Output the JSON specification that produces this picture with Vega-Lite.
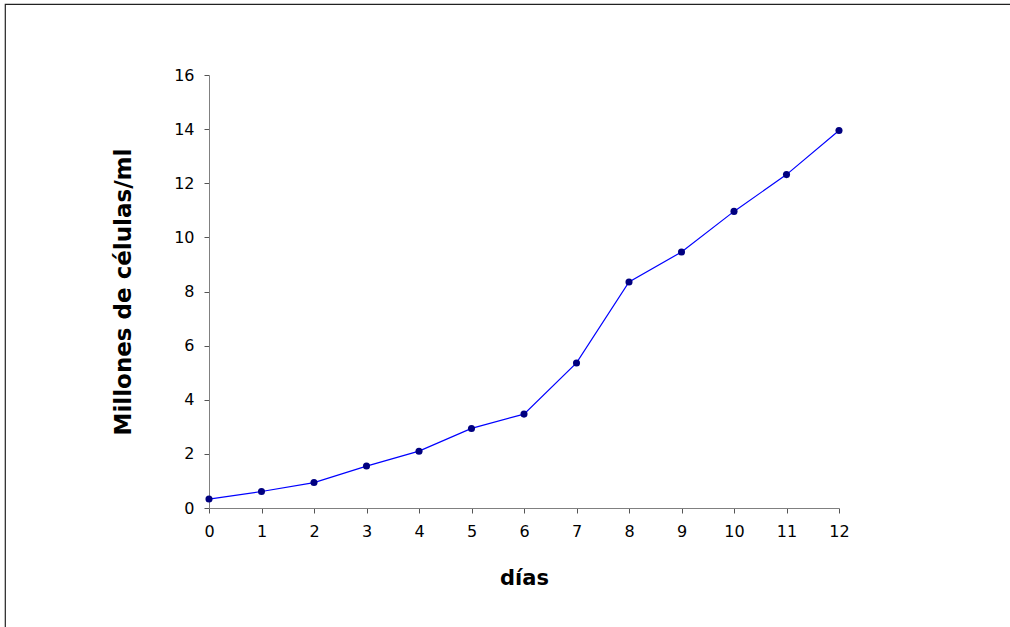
{
  "$schema": "https://vega.github.io/schema/vega-lite/v6.json",
  "width": 1006,
  "height": 624,
  "padding": {"left": 5, "top": 4, "right": 0, "bottom": 0},
  "background": "white",
  "config": {
    "view": {"stroke": "#222222", "strokeWidth": 1.2},
    "font": "DejaVu Sans"
  },
  "data": {
    "values": [
      {"dia": 0, "celulas": 0.33},
      {"dia": 1, "celulas": 0.61},
      {"dia": 2, "celulas": 0.94},
      {"dia": 3, "celulas": 1.55},
      {"dia": 4, "celulas": 2.1},
      {"dia": 5, "celulas": 2.94},
      {"dia": 6, "celulas": 3.47},
      {"dia": 7, "celulas": 5.36},
      {"dia": 8, "celulas": 8.35},
      {"dia": 9, "celulas": 9.46},
      {"dia": 10, "celulas": 10.96},
      {"dia": 11, "celulas": 12.32},
      {"dia": 12, "celulas": 13.95}
    ]
  },
  "encoding": {
    "x": {
      "field": "dia",
      "type": "quantitative",
      "scale": {"domain": [0, 12], "range": [204, 834], "nice": false, "zero": false},
      "axis": {
        "title": "días",
        "values": [0,1,2,3,4,5,6,7,8,9,10,11,12],
        "orient": "bottom",
        "offset": -120,
        "grid": false,
        "domainColor": "#808080",
        "tickColor": "#555555",
        "tickSize": 5,
        "labelFlush": false,
        "labelFontSize": 16,
        "labelColor": "#000000",
        "labelPadding": 10,
        "titleFontSize": 21,
        "titleFontWeight": "bold",
        "titleColor": "#000000",
        "titlePadding": 28
      }
    },
    "y": {
      "field": "celulas",
      "type": "quantitative",
      "scale": {"domain": [0, 16], "range": [504, 71], "nice": false, "zero": false},
      "axis": {
        "title": "Millones de células/ml",
        "values": [0,2,4,6,8,10,12,14,16],
        "orient": "left",
        "offset": -204,
        "grid": false,
        "domainColor": "#808080",
        "tickColor": "#555555",
        "tickSize": 5,
        "labelFlush": false,
        "labelFontSize": 16,
        "labelColor": "#000000",
        "labelPadding": 10,
        "titleFontSize": 23,
        "titleFontWeight": "bold",
        "titleColor": "#000000",
        "titlePadding": 38
      }
    }
  },
  "layer": [
    {"mark": {"type": "line", "color": "#0000FF", "strokeWidth": 1.2}},
    {"mark": {"type": "point", "filled": true, "color": "#000080", "size": 50, "opacity": 1}}
  ]
}
